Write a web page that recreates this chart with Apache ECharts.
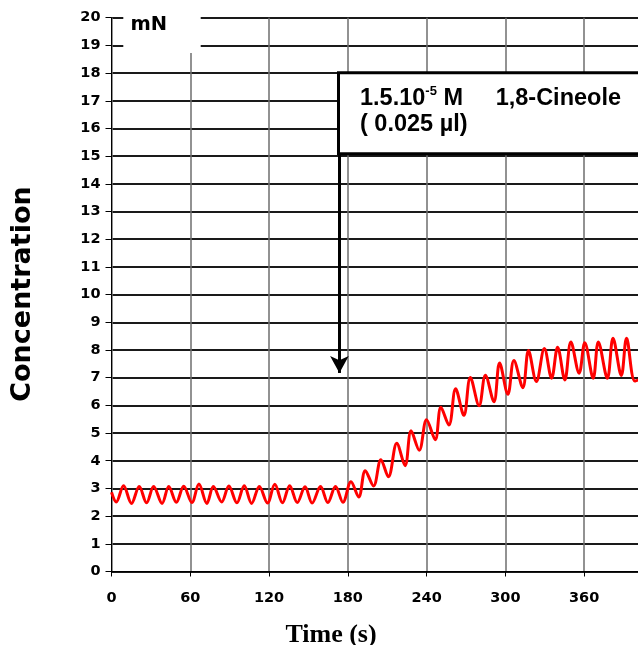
<!DOCTYPE html>
<html>
<head>
<meta charset="utf-8">
<script src="https://cdn.jsdelivr.net/npm/echarts@6/dist/echarts.min.js"></script>
<style>
  html, body { margin: 0; padding: 0; background: #fff; width: 638px; height: 645px; overflow: hidden; }
  /* the plot runs on past the right edge of the picture, as in the original */
  #chart { width: 660px; height: 645px; }
</style>
</head>
<body>
<div id="chart"></div>
<script>
// peaks and troughs of the trace (time in s, force in mN)
const timeS = [
  0, 3.6, 9.2, 15.2, 21.1, 26.7, 32.1, 38.5, 43.6, 49.4, 55.0, 61.2, 66.6, 72.6, 77.6, 83.9,
  89.4, 95.5, 101.1, 106.7, 112.6, 118.8, 124.4, 130.2, 135.7, 141.5, 147.4, 152.8, 159.2, 164.8,
  170.6, 176.3, 182.4, 188.3, 193.3, 199.6, 205.2, 210.9, 217.3, 223.6, 228.2, 234.4, 240.0,
  246.6, 250.9, 257.0, 262.1, 268.4, 273.3, 280.0, 284.8, 291.3, 295.6, 301.9, 306.5,
  313.3, 317.6, 323.6, 329.7, 335.2, 339.8, 345.3, 349.9, 356.2, 360.5, 366.9, 370.8, 377.7,
  382.0, 388.3, 392.3, 398.6, 402.6
];
const concMN = [
  2.86, 2.51, 3.10, 2.46, 3.07, 2.48, 3.07, 2.46, 3.07, 2.50, 3.08, 2.49, 3.16, 2.46, 3.07, 2.51,
  3.09, 2.48, 3.10, 2.46, 3.07, 2.47, 3.15, 2.48, 3.10, 2.49, 3.06, 2.47, 3.07, 2.49,
  3.07, 2.50, 3.24, 2.69, 3.64, 3.09, 4.04, 3.42, 4.63, 3.82, 5.08, 4.38, 5.48,
  4.76, 5.93, 5.29, 6.60, 5.64, 7.01, 5.99, 7.09, 6.13, 7.53, 6.40, 7.62,
  6.64, 7.98, 6.86, 8.05, 6.98, 8.10, 6.92, 8.29, 7.16, 8.26, 6.98, 8.29, 6.98,
  8.42, 7.08, 8.42, 6.88, 6.94
];

const xStep = 60;
const xMax = 415.5;
const yMax = 20;
const injectTime = 173.6;   // arrow: time of application
const boxLeft = 172.9, boxTop = 18.01, boxBottom = 15.09, arrowEnd = 7.17;

const chart = echarts.init(document.getElementById('chart'));

const labelFont = {
  color: '#000',
  fontFamily: '"DejaVu Sans", Verdana, sans-serif',
  fontWeight: 'bold',
  fontSize: 14.5
};

chart.setOption({
  animation: false,
  grid: { left: 111.5, right: 0, top: 17.7, bottom: 73.5 },
  xAxis: {
    type: 'value',
    min: 0,
    max: xMax,
    interval: xStep,
    axisLine: { lineStyle: { color: '#000', width: 1 } },
    axisTick: { show: true, length: 5, lineStyle: { color: '#000' } },
    axisLabel: Object.assign({
      margin: 19,
      formatter: v => (v % xStep === 0 ? String(v) : '')
    }, labelFont),
    splitLine: { show: true, lineStyle: { color: '#6e6e6e', width: 1.5 } }
  },
  yAxis: {
    type: 'value',
    min: 0,
    max: yMax,
    interval: 1,
    axisLine: { show: true, lineStyle: { color: '#000', width: 1 } },
    axisTick: { show: true, length: 6, lineStyle: { color: '#000' } },
    axisLabel: Object.assign({ margin: 11 }, labelFont),
    splitLine: { show: true, lineStyle: { color: '#1a1a1a', width: 2 } }
  },
  graphic: [
    {
      type: 'text',
      x: 23,
      y: 294,
      rotation: Math.PI / 2,
      style: {
        text: 'Concentration',
        fill: '#000',
        font: 'bold 27px "DejaVu Sans", Verdana, sans-serif',
        textAlign: 'center',
        textVerticalAlign: 'middle'
      }
    },
    {
      type: 'text',
      x: 331,
      y: 635,
      style: {
        text: 'Time (s)',
        fill: '#000',
        font: 'bold 26px "Times New Roman", "Liberation Serif", serif',
        textAlign: 'center',
        textVerticalAlign: 'middle'
      }
    },
    {
      type: 'rect',
      shape: { x: 123.3, y: 0, width: 77.4, height: 53 },
      style: { fill: '#fff' },
      z: 100
    },
    {
      type: 'text',
      x: 130.5,
      y: 25,
      z: 101,
      style: {
        text: 'mN',
        fill: '#000',
        font: 'bold 19.5px "DejaVu Sans", Verdana, sans-serif',
        textVerticalAlign: 'middle'
      }
    }
  ],
  series: [{
    type: 'line',
    data: timeS.map((t, i) => [t, concMN[i]]),
    showSymbol: false,
    smooth: 0.35,
    lineStyle: { color: '#ff0000', width: 3 },
    markArea: {
      silent: true,
      itemStyle: { color: '#fff', borderColor: '#000', borderWidth: 3 },
      label: {
        position: 'insideTopLeft',
        padding: [9, 0, 0, 18],
        rich: {
          a: { fontFamily: 'Arial, "Liberation Sans", sans-serif', fontWeight: 'bold', fontSize: 23.5, color: '#000', lineHeight: 26 },
          sup: { fontFamily: 'Arial, "Liberation Sans", sans-serif', fontWeight: 'bold', fontSize: 13, color: '#000', verticalAlign: 'top', lineHeight: 26 }
        },
        formatter: '{a|1.5.10}{sup|-5}{a| M     1,8-Cineole}\n{a|( 0.025 µl)}'
      },
      data: [[{ coord: [boxLeft, boxTop] }, { coord: [xMax, boxBottom] }]]
    },
    markLine: {
      silent: true,
      symbol: ['none', 'arrow'],
      symbolSize: [14, 17],
      label: { show: false },
      lineStyle: { color: '#000', width: 3, type: 'solid' },
      data: [[{ coord: [injectTime, boxBottom] }, { coord: [injectTime, arrowEnd] }]]
    }
  }]
});
</script>
</body>
</html>
